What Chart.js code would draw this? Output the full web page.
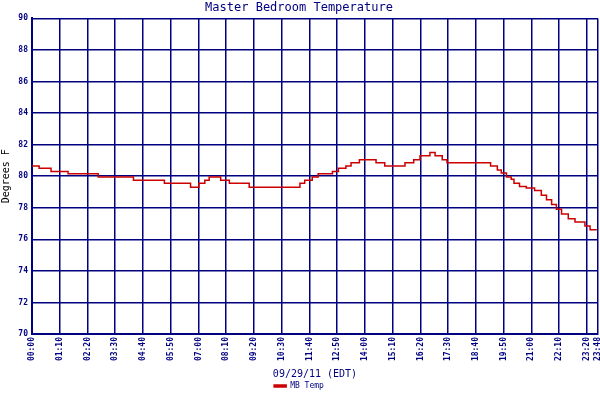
<!DOCTYPE html>
<html><head><script src="https://cdn.jsdelivr.net/npm/chart.js@4"></script>
<style>html,body{margin:0;padding:0;background:#fff}#w{width:600px;height:400px}</style></head>
<body><div id="w"><canvas id="c"></canvas></div>
<script>
const minutes=[0,18,48,91,167,256,334,400,421,436,447,476,498,548,676,688,707,722,758,773,792,805,826,868,890,941,963,979,1004,1017,1035,1047,1157,1174,1184,1197,1209,1216,1230,1247,1268,1285,1298,1311,1323,1336,1353,1370,1395,1408,1425,1428];
const temps=[80.65,80.5,80.3,80.15,79.95,79.75,79.55,79.3,79.55,79.75,79.95,79.75,79.55,79.3,79.55,79.75,79.95,80.15,80.3,80.5,80.65,80.85,81.05,80.85,80.65,80.85,81.05,81.3,81.5,81.3,81.05,80.85,80.65,80.4,80.2,79.95,79.8,79.55,79.35,79.25,79.1,78.8,78.5,78.2,77.9,77.6,77.3,77.1,76.85,76.6,76.6];
const xTicks=[0,70,140,210,280,350,420,490,560,630,700,770,840,910,980,1050,1120,1190,1260,1330,1400,1428];
const yTicks=[70,72,74,76,78,80,82,84,86,88,90];
const navy='#000080',font={family:'DejaVu Sans Mono',size:8,weight:'bold'};
const fmt=m=>String(Math.floor(m/60)).padStart(2,'0')+':'+String(m%60).padStart(2,'0');
// shift values so each value holds from its own start minute
const pts=minutes.map((m,i)=>({x:m,y:temps[i]}));
new Chart(document.getElementById('c'),{type:'line',
data:{datasets:[{label:'MB Temp',data:pts,stepped:'before',borderColor:'#cc0000',backgroundColor:'#cc0000',borderWidth:1.5,pointRadius:0}]},
options:{responsive:true,maintainAspectRatio:false,animation:false,
layout:{padding:{right:2,top:0,bottom:0,left:0}},
plugins:{title:{display:true,text:'Master Bedroom Temperature',color:navy,font:{family:'DejaVu Sans Mono',size:12,weight:'normal'},padding:{top:1,bottom:3}},
legend:{position:'bottom',labels:{color:navy,font:{family:'DejaVu Sans Mono',size:8},boxWidth:12,boxHeight:2,padding:2}},tooltip:{enabled:false}},
scales:{
x:{type:'linear',min:0,max:1428,afterBuildTicks:s=>{s.ticks=xTicks.map(v=>({value:v}))},afterFit:s=>{s.height=46;s.paddingRight=0;s.paddingLeft=0},
 grid:{color:navy,lineWidth:1.5,drawTicks:false},border:{color:navy,width:2},
 ticks:{color:navy,font:font,minRotation:90,maxRotation:90,autoSkip:false,padding:3,callback:v=>fmt(v)},
 title:{display:true,text:'09/29/11 (EDT)',color:navy,font:{family:'DejaVu Sans Mono',size:10},padding:{top:2,bottom:0}}},
y:{min:70,max:90,afterBuildTicks:s=>{s.ticks=yTicks.map(v=>({value:v}))},afterFit:s=>{s.width=32},
 grid:{color:navy,lineWidth:1.5,drawTicks:false},border:{color:navy,width:2},
 ticks:{color:navy,font:font,padding:4},
 title:{display:true,text:'Degrees F',color:'#000',font:{family:'DejaVu Sans Mono',size:10},padding:0}}}}});
</script></body></html>
